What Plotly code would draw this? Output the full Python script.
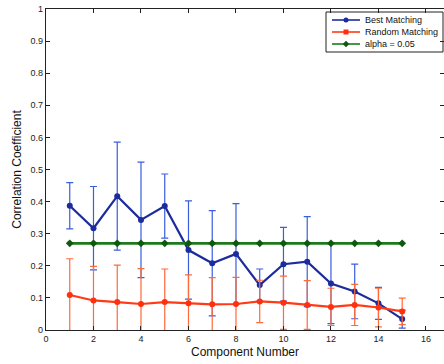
import plotly.graph_objects as go

# Component index
components = list(range(1, 16))

# Best matching: mean correlation and error half-widths
best_mean = [0.387, 0.317, 0.417, 0.343, 0.386, 0.249, 0.208, 0.237, 0.140, 0.205, 0.213, 0.145, 0.120, 0.083, 0.034]
best_err = [0.072, 0.130, 0.168, 0.180, 0.100, 0.153, 0.164, 0.157, 0.050, 0.115, 0.140, 0.125, 0.085, 0.050, 0.028]

# Random matching: mean correlation and error half-widths
rand_mean = [0.109, 0.092, 0.087, 0.081, 0.087, 0.083, 0.080, 0.081, 0.089, 0.085, 0.078, 0.072, 0.078, 0.070, 0.058]
rand_err = [0.113, 0.106, 0.115, 0.110, 0.103, 0.089, 0.083, 0.083, 0.066, 0.083, 0.076, 0.058, 0.064, 0.060, 0.041]

# Significance threshold
alpha_level = [0.27] * 15

series_names = ["Best Matching", "Random Matching", "alpha = 0.05"]
line_colors = ["#1c2c9c", "#ff3a14", "#1d7a1d"]
marker_colors = ["#1c2c9c", "#ff3010", "#0f5a10"]

x_ticks = [0, 2, 4, 6, 8, 10, 12, 14, 16]
y_ticks = [0, 0.1, 0.2, 0.3, 0.4, 0.5, 0.6, 0.7, 0.8, 0.9, 1]
y_tick_text = ["0", "0.1", "0.2", "0.3", "0.4", "0.5", "0.6", "0.7", "0.8", "0.9", "1"]

FONT = "Arial, Liberation Sans, sans-serif"

fig = go.Figure()

fig.add_trace(go.Scatter(
    x=components, y=best_mean, name=series_names[0],
    mode="lines+markers",
    line=dict(color=line_colors[0], width=2.2),
    marker=dict(symbol="circle", size=6, color=marker_colors[0]),
    error_y=dict(type="data", array=best_err, color="#3a5ee0", thickness=1.2, width=3.5),
))

fig.add_trace(go.Scatter(
    x=components, y=rand_mean, name=series_names[1],
    mode="lines+markers",
    line=dict(color=line_colors[1], width=2.2),
    marker=dict(symbol="circle", size=6, color=marker_colors[1]),
    error_y=dict(type="data", array=rand_err, color="#ff6a3a", thickness=1.2, width=3.5),
))

fig.add_trace(go.Scatter(
    x=components, y=alpha_level, name=series_names[2],
    mode="lines+markers",
    line=dict(color=line_colors[2], width=2.6),
    marker=dict(symbol="diamond", size=6, color=marker_colors[2]),
))

axis_common = dict(
    showline=True, linecolor="#222222", linewidth=1.2,
    mirror="ticks", ticks="inside", ticklen=4, tickcolor="#222222",
    showgrid=False, zeroline=False,
    tickfont=dict(family=FONT, size=9, color="#222222"),
)

fig.update_xaxes(
    range=[0, 16.76], tickvals=x_ticks,
    title=dict(text="Component Number", standoff=4,
               font=dict(family=FONT, size=12, color="#111111")),
    **axis_common,
)
fig.update_yaxes(
    range=[0, 1], tickvals=y_ticks, ticktext=y_tick_text,
    title=dict(text="Correlation Coefficient", standoff=6,
               font=dict(family=FONT, size=12, color="#111111")),
    **axis_common,
)

# Compact boxed legend in the upper-right corner (paper coordinates)
W, H = 444, 364
ML, MR, MT, MB = 46, 0, 9, 34
PW, PH = W - ML - MR, H - MT - MB


def px(xp):
    return (xp - ML) / PW


def py(yp):
    return (H - MB - yp) / PH


shapes = [dict(type="rect", xref="paper", yref="paper",
               x0=px(326), x1=px(443), y0=py(52), y1=py(12),
               line=dict(color="#222222", width=1), fillcolor="white", layer="below")]
annotations = []
row_y = [20, 32, 44]
for name, lc, yy in zip(series_names, line_colors, row_y):
    shapes.append(dict(type="line", xref="paper", yref="paper",
                       x0=px(332), x1=px(360), y0=py(yy), y1=py(yy),
                       line=dict(color=lc, width=1.6), layer="below"))
    annotations.append(dict(xref="paper", yref="paper", x=px(363), y=py(yy),
                            xanchor="left", yanchor="middle", showarrow=False,
                            text=name, font=dict(family=FONT, size=9, color="#111111")))

fig.update_layout(
    width=W, height=H,
    margin=dict(l=ML, r=MR, t=MT, b=MB),
    paper_bgcolor="white", plot_bgcolor="white",
    showlegend=False,
    shapes=shapes,
    annotations=annotations,
)

# Legend sample markers, drawn on an overlay axis in pixel-like units
fig.add_trace(go.Scatter(
    x=[346, 346, 346], y=row_y, mode="markers",
    marker=dict(symbol=["circle", "square", "diamond"], size=5, color=marker_colors),
    xaxis="x2", yaxis="y2", hoverinfo="skip", cliponaxis=False,
))
fig.update_layout(
    xaxis2=dict(overlaying="x", range=[ML, W - MR], visible=False, fixedrange=True),
    yaxis2=dict(overlaying="y", range=[H - MB, MT], visible=False, fixedrange=True),
)

fig.write_html("out.html")
